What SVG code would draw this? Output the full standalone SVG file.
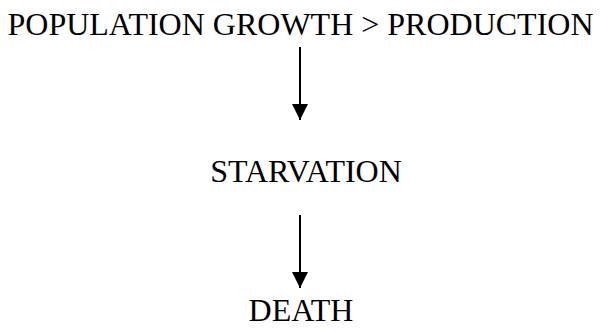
<svg xmlns="http://www.w3.org/2000/svg" width="602" height="331" viewBox="0 0 602 331">
<style>
text{font-family:"Liberation Serif","Times New Roman",serif;font-size:32px;fill:#000;text-anchor:middle}
.c{stroke:#000;stroke-width:2;fill:none}
</style>
<defs>
<marker id="ah" viewBox="0 0 16 17" refX="16" refY="8" markerWidth="16" markerHeight="17" markerUnits="userSpaceOnUse" orient="auto">
<path d="M0,0 L16,8 L0,16 Z" fill="#000"/>
</marker>
</defs>
<rect width="602" height="331" fill="#fff"/>
<g id="n1"><text x="300.5" y="35">POPULATION GROWTH &gt; PRODUCTION</text></g>
<g id="n2"><text x="306" y="182">STARVATION</text></g>
<g id="n3"><text x="301" y="321">DEATH</text></g>
<g id="connectors">
<path class="c" d="M300,47 L300,120" marker-end="url(#ah)"/>
<path class="c" d="M300,215 L300,288" marker-end="url(#ah)"/>
</g>
</svg>
